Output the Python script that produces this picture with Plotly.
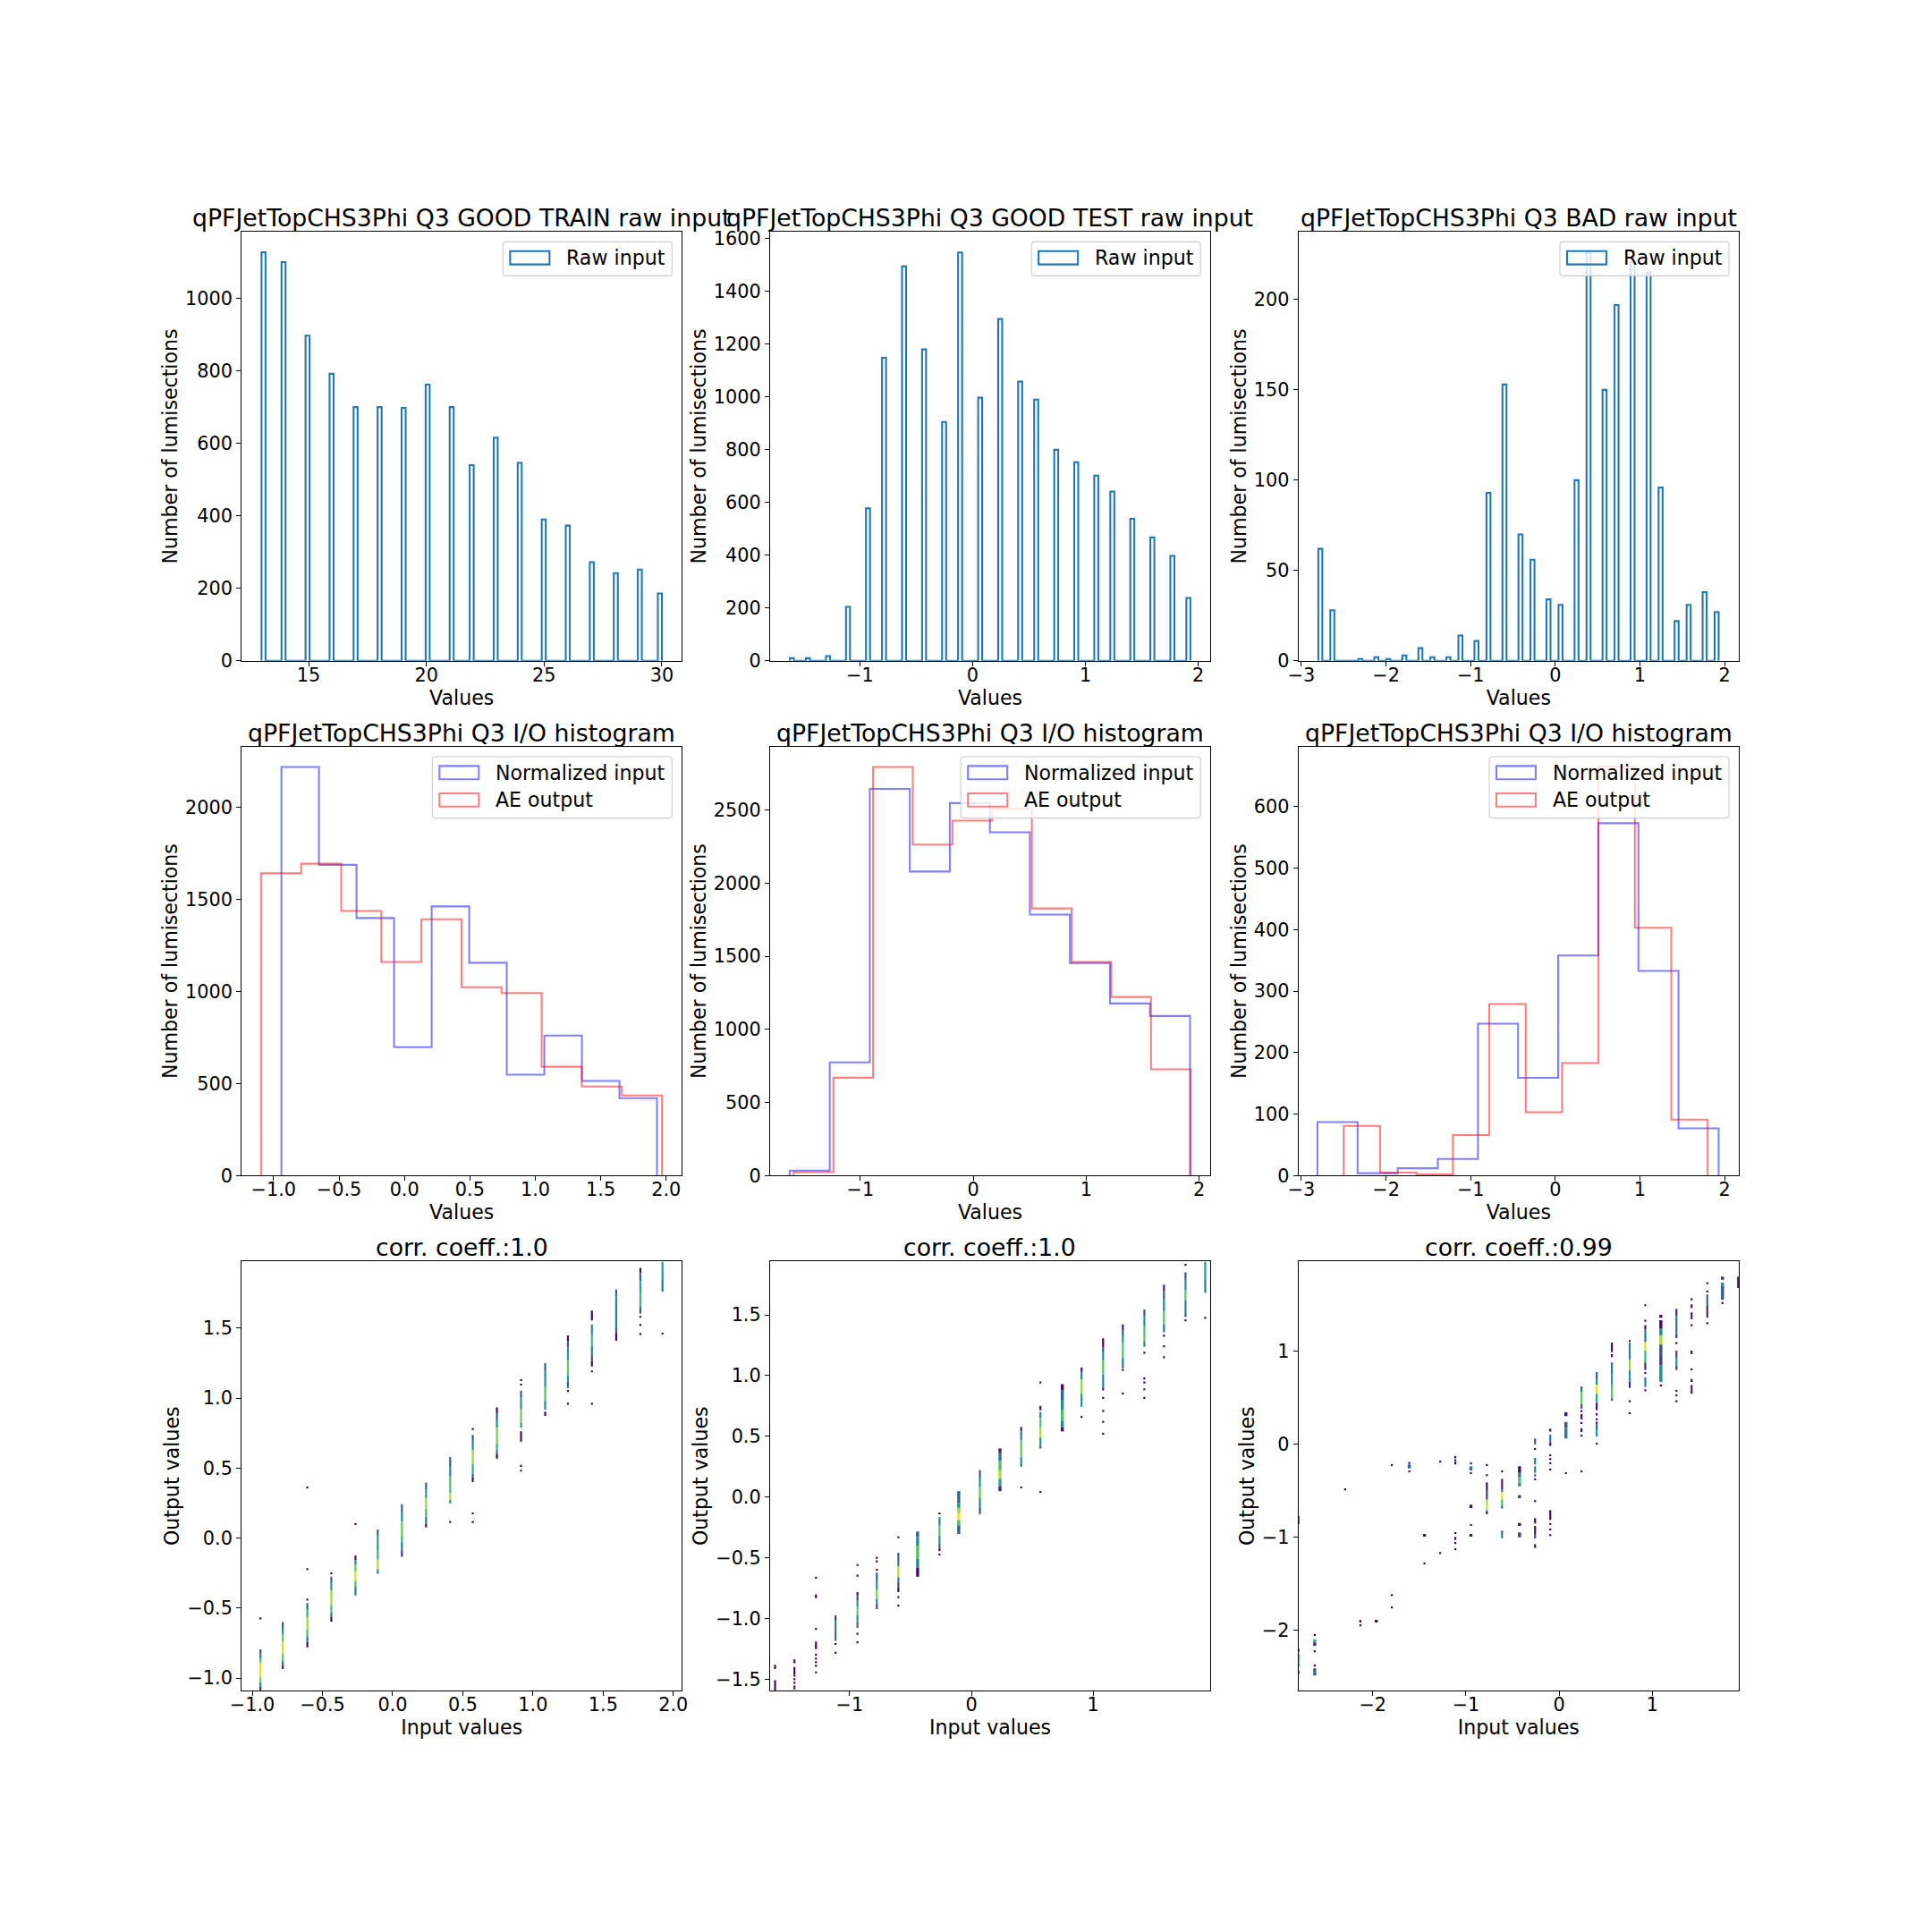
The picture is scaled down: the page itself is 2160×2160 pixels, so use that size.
import numpy as np
import plotly.graph_objects as go

# ---------- row 1: raw input histograms (distinct value -> number of lumisections)
train_values = [13,14,15,16,17,18,19,20,21,22,23,24,25,26,27,28,29,30]
train_counts = [1127,1100,897,792,700,700,698,762,700,540,616,546,390,373,272,242,252,186]
test_values = [-1.62,-1.45,-1.28,-1.11,-0.94,-0.77,-0.60,-0.43,-0.26,-0.10,0.07,0.24,0.41,0.58,0.75,0.91,1.08,1.25,1.42,1.59,1.76,1.93]
test_counts = [10,10,18,204,577,1147,1493,1179,904,1546,996,1294,1057,989,799,752,701,641,538,467,397,238]
bad_values = [-2.80,-2.62,-2.28,-2.12,-1.95,-1.78,-1.61,-1.44,-1.27,-1.10,-0.94,-0.77,-0.60,-0.43,-0.26,-0.10,0.07,0.24,0.41,0.58,0.74,0.91,1.08,1.25,1.42,1.59,1.76,1.93]
bad_counts = [62,28,1,2,1,3,7,2,2,14,11,93,153,70,56,34,31,100,226,150,197,221,215,96,22,31,38,27]

# ---------- row 2: input / output histograms (first edge, last edge, ten counts)
io1_in_range, io1_in = (-0.94, 1.93), [2221,1689,1400,698,1463,1157,549,761,515,421]
io1_out_range, io1_out = (-1.096, 1.968), [1643,1695,1438,1161,1393,1024,992,592,484,436]
io2_in_range, io2_in = (-1.625, 1.92), [35,775,2645,2080,2548,2349,1786,1454,1178,1092]
io2_out_range, io2_out = (-1.59, 1.926), [24,670,2795,2264,2428,2509,1828,1462,1222,727]
io3_in_range, io3_in = (-2.81, 1.93), [87,4,12,27,247,159,358,573,333,77]
io3_out_range, io3_out = (-2.50, 1.80), [81,5,2,66,279,103,183,665,403,91]

# ---------- row 3: scatter columns: (input value, output edges, density per stretch)
p1_runs = [
 (-0.942,[-.796,-.825,-.86,-.895,-.99,-1.03,-1.06,-1.09],[.2,.45,.72,.95,.8,.45,.15]),
 (-0.783,[-.60,-.642,-.691,-.74,-.825,-.874,-.906,-.935],[.3,.5,.75,.92,.75,.45,.05]),
 (-0.608,[-.464,-.508,-.569,-.654,-.703,-.74,-.781],[.35,.65,.85,.7,.4,.03]),
 (-0.437,[-.276,-.32,-.374,-.483,-.532,-.564,-.598],[.3,.55,.85,.7,.4,.03]),
 (-0.265,[-.125,-.159,-.19,-.239,-.305,-.349,-.41],[.03,.45,.75,.95,.7,.4]),
 (-0.106,[.061,.017,-.093,-.154,-.222,-.256],[.3,.55,.65,.88,.5]),
 (0.066,[.242,.188,.115,.017,-.032,-.093,-.134],[.3,.5,.75,.65,.4,.2]),
 (0.238,[.395,.347,.286,.212,.151,.103,.076],[.3,.55,.85,.7,.45,.05]),
 (0.41,[.579,.505,.444,.322,.273,.247],[.3,.45,.7,.9,.5]),
 (0.571,[.737,.688,.627,.53,.457,.437,.40],[.3,.5,.85,.65,.3,.03]),
 (0.743,[.933,.891,.847,.786,.676,.627,.603,.566],[.03,.3,.5,.8,.65,.35,.05]),
 (0.915,[1.052,.999,.92,.823,.786],[.3,.5,.78,.55]),
 (0.915,[.762,.688],[.03]),
 (1.087,[1.25,1.189,1.079,.981,.915],[.3,.5,.72,.5]),
 (1.087,[.903,.872],[.03]),
 (1.249,[1.448,1.404,1.36,1.274,1.165,1.116,1.072],[.03,.3,.55,.75,.55,.3]),
 (1.42,[1.624,1.555],[.03]),
 (1.42,[1.526,1.445,1.372,1.311,1.262,1.226],[.5,.7,.45,.25,.03]),
 (1.593,[1.775,1.726,1.506,1.47,1.409],[.3,.45,.25,.03]),
 (1.765,[1.929,1.892,1.836,1.738,1.653,1.604],[.03,.3,.6,.68,.3]),
 (1.923,[1.975,1.85,1.758],[.55,.42]),
]
p1_dots = [(-0.942,[-.574]),(-0.608,[.361,-.222,-.44]),(-0.437,[-.252]),(-0.265,[.10]),
 (0.41,[.115]),(0.571,[.779,.176,.115]),(0.915,[1.128,1.096,.515,.481]),(1.249,[1.05,.96]),
 (1.42,[1.19,.96]),(1.765,[1.58,1.521,1.458]),(1.923,[1.46])]

p2_runs = [
 (-1.613,[-1.382,-1.416],[.03]),(-1.613,[-1.509,-1.593],[.03]),
 (-1.454,[-1.40,-1.46],[.03]),
 (-1.277,[-.802,-.833],[.03]),(-1.277,[-1.19,-1.252],[.03]),
 (-1.116,[-.974,-1.02,-1.10,-1.185],[.2,.45,.35]),
 (-0.936,[-.782,-.81,-.85,-.90,-.97,-1.03,-1.078],[.03,.25,.5,.75,.5,.3]),
 (-0.777,[-.622,-.68,-.76,-.84,-.88,-.923],[.3,.5,.78,.5,.25]),
 (-0.60,[-.459,-.53,-.57,-.66,-.70,-.745,-.782],[.3,.45,.88,.45,.2,.03]),
 (-0.442,[-.284,-.33,-.40,-.51,-.58,-.656],[.3,.5,.72,.5,.05]),
 (-0.262,[-.166,-.23,-.32,-.38,-.42,-.445],[.4,.72,.5,.3,.03]),
 (-0.104,[.048,-.05,-.09,-.14,-.19,-.235,-.304],[.3,.5,.85,.98,.7,.3]),
 (0.07,[.222,.16,.08,-.01,-.09,-.141],[.3,.5,.75,.45,.25]),
 (0.235,[.40,.36,.30,.22,.15,.09,.048],[.1,.4,.72,.88,.6,.1]),
 (0.409,[.577,.54,.47,.33,.27,.25],[.1,.4,.75,.5,.3]),
 (0.567,[.751,.715],[.03]),
 (0.567,[.70,.65,.57,.49,.42,.40],[.45,.72,.88,.5,.25]),
 (0.747,[.929,.88,.80,.72,.63,.575,.54],[.03,.3,.5,.72,.5,.05]),
 (0.905,[1.067,1.03,.97,.85,.743],[.05,.45,.82,.5]),
 (1.082,[1.306,1.23,1.19,1.12,1.01,.90,.878],[.03,.25,.5,.72,.45,.05]),
 (1.244,[1.421,1.37,1.33,1.26,1.15,1.08,1.067],[.08,.3,.55,.72,.45,.2]),
 (1.421,[1.545,1.49,1.40,1.28,1.236],[.25,.5,.72,.45]),
 (1.582,[1.748,1.69,1.62,1.53,1.42,1.357],[.1,.3,.5,.72,.4]),
 (1.759,[1.849,1.79,1.70,1.62,1.50,1.483],[.25,.5,.72,.45,.2]),
 (1.921,[1.939,1.80,1.68],[.55,.42]),
]
p2_dots = [(-1.454,[-1.345,-1.36,-1.47,-1.50,-1.53,-1.56,-1.575]),
 (-1.277,[-.664,-1.086,-1.30,-1.33,-1.36,-1.39,-1.444]),(-1.116,[-1.21,-1.283]),
 (-0.936,[-.56,-.647,-1.126,-1.196]),(-0.777,[-.50,-.53,-.60]),(-0.60,[-.332,-.825,-.895]),
 (-0.262,[-.135,-.473]),(0.409,[.079]),(0.567,[.943,.042]),(0.905,[.659]),
 (1.082,[.816,.709,.619,.521]),(1.244,[1.047,.853]),(1.421,[1.188,.977,.943,.887,.816]),
 (1.582,[1.328,1.241,1.151]),(1.759,[1.911,1.455]),(1.921,[1.475])]

p3_runs = [
 (-2.797,[-.771,-.858],[.03]),(-2.797,[-2.198,-2.23],[.03]),(-2.797,[-2.256,-2.30,-2.35,-2.39],[.5,.7,.45]),(-2.797,[-2.43,-2.47],[.03]),
 (-2.622,[-2.096,-2.13,-2.166],[.6,.1]),(-2.622,[-2.41,-2.45,-2.487],[.25,.3]),
 (-2.133,[-1.887,-1.916],[.03]),(-1.962,[-1.887,-1.916],[.03]),
 (-1.608,[-.216,-.258],[.28]),
 (-1.445,[-.964,-.992],[.03]),
 (-1.114,[-.152,-.17,-.194],[.5,.25]),(-1.114,[-.996,-1.028],[.03]),
 (-0.947,[-.236,-.28],[.4]),(-0.947,[-.649,-.685],[.03]),(-0.947,[-.964,-.992],[.03]),
 (-0.776,[-.408,-.50,-.594,-.65,-.707,-.735],[.05,.2,.85,.93,.4]),
 (-0.613,[-.37,-.482,-.514,-.594,-.658,-.69],[.1,.45,.95,.7,.3]),(-0.613,[-.93,-.95],[.03]),(-0.613,[-.95,-1.01],[.45]),
 (-0.426,[-.235,-.306,-.354,-.418,-.45],[.03,.45,.72,.45]),(-0.426,[-.546,-.578],[.15]),(-0.426,[-.845,-.877],[.03]),(-0.426,[-.947,-1.0],[.2]),
 (-0.259,[.063,0.0],[.28]),(-0.259,[-.145,-.216],[.42]),(-0.259,[-.235,-.306],[.42]),(-0.259,[-.322,-.344],[.2]),
 (-0.259,[-.793,-.851],[.03]),(-0.259,[-.877,-.963],[.03]),(-0.259,[-.963,-1.011],[.22]),(-0.259,[-1.073,-1.114],[.03]),
 (-0.096,[.169,.137],[.03]),(-0.096,[.105,.021],[.4]),(-0.096,[.021,-.017],[.03]),(-0.096,[-.707,-.813],[.03]),
 (0.072,[.345,.304],[.03]),(0.072,[.24,.175,.063],[.25,.45]),
 (0.239,[.624,.56,.432,.384],[.3,.75,.25]),(0.239,[.326,.27],[.03]),(0.239,[.175,.133],[.03]),
 (0.402,[.778,.70,.64,.544,.448,.368],[.3,.5,.97,.6,.05]),(0.402,[.336,.31],[.03]),(0.402,[.223,.15,.085],[.35,.5]),
 (0.565,[1.096,.993],[.03]),(0.565,[.97,.94],[.03]),(0.565,[.881,.753,.64,.496,.47],[.42,.55,.72,.25]),
 (0.756,[1.096,.913,.8,.672,.608],[.45,.85,.55,.15]),
 (0.923,[1.282,1.234,1.105,1.009,.881,.80],[.05,.35,.95,.68,.12]),(0.923,[.72,.618],[.42]),
 (1.09,[1.394,1.362],[.03]),(1.09,[1.336,1.25,1.17,1.073,.961,.85,.672],[.03,.5,.88,.25,.2,.5]),
 (1.257,[1.458,1.378,1.185,1.144],[.12,.4,.15]),(1.257,[1.009,.929,.849,.80],[.22,.5,.18]),
 (1.42,[1.506,1.465],[.03]),(1.42,[1.42,1.346],[.08]),(1.42,[1.009,.971],[.03]),(1.42,[.704,.672],[.03]),(1.42,[.64,.544],[.08]),
 (1.588,[1.612,1.49,1.362],[.35,.12]),
 (1.751,[1.804,1.772],[.12]),(1.751,[1.74,1.708],[.5]),(1.751,[1.708,1.554],[.28]),
 (1.918,[1.804,1.683],[.12]),
]
p3_dots = [(-2.622,[-2.05,-2.224,-2.378]),(-2.296,[-.483]),(-2.133,[-1.945]),(-1.795,[-.223,-1.621,-1.753]),
 (-1.608,[-.2,-.29]),(-1.445,[-1.281]),(-1.277,[-.184,-1.169]),(-1.114,[-.136,-.204,-.954,-1.06,-1.127]),
 (-0.947,[-.204,-.309,-.867]),(-0.776,[-.222,-.331,-.739]),(-0.613,[-.29]),(-0.259,[-.049,-.376,-.61]),
 (-0.096,[-.117,-.158,-.203,-.27,-.857,-.915,-.976]),(0.072,[-.309]),(0.239,[.358,.23,.095,-.29]),
 (0.402,[.27,.233,.008]),(0.756,[1.112,.464,.336]),(0.923,[1.497,1.33,.768,.582]),(1.09,[.634]),
 (1.257,[1.089,.576,.528,.464]),(1.42,[1.561,1.282,.807]),(1.588,[1.734,1.644,1.304]),(1.751,[1.519])]

# columns whose points spread a little wider on the input axis
p1_wide = []
p2_wide = [-0.442,-0.104,0.235,0.747]
p3_wide = [-2.622,-1.962,-1.608,-1.445,-0.947,-0.426,0.072,1.09,1.751]

# ---------- text
titles = ["qPFJetTopCHS3Phi Q3 GOOD TRAIN raw input","qPFJetTopCHS3Phi Q3 GOOD TEST raw input","qPFJetTopCHS3Phi Q3 BAD raw input",
          "qPFJetTopCHS3Phi Q3 I/O histogram","qPFJetTopCHS3Phi Q3 I/O histogram","qPFJetTopCHS3Phi Q3 I/O histogram",
          "corr. coeff.:1.0","corr. coeff.:1.0","corr. coeff.:0.99"]
x_ticks = [[15,20,25,30],[-1,0,1,2],[-3,-2,-1,0,1,2],
           [-1.0,-0.5,0.0,0.5,1.0,1.5,2.0],[-1,0,1,2],[-3,-2,-1,0,1,2],
           [-1.0,-0.5,0.0,0.5,1.0,1.5,2.0],[-1,0,1],[-2,-1,0,1]]
y_ticks = [[0,200,400,600,800,1000],[0,200,400,600,800,1000,1200,1400,1600],[0,50,100,150,200],
           [0,500,1000,1500,2000],[0,500,1000,1500,2000,2500],[0,100,200,300,400,500,600],
           [-1.0,-0.5,0.0,0.5,1.0,1.5],[-1.5,-1.0,-0.5,0.0,0.5,1.0,1.5],[-2,-1,0,1]]
x_ranges = [[12.15,30.85],[-1.797,2.107],[-3.035,2.168],[-1.245,2.12],[-1.80,2.10],[-3.035,2.168],
            [-1.077,2.061],[-1.655,1.963],[-2.797,1.926]]
y_ranges = [[0,1183.6],[0,1624],[0,237.5],[0,2331],[0,2934],[0,697.5],
            [-1.089,1.975],[-1.593,1.939],[-2.647,1.967]]

# ---------- layout
S = 2160.0
LEFTS = [270.0, 860.82, 1451.65]
TOPS = [259.2, 834.8, 1410.4]
W, H = 492.35, 479.6
TICK_PX, LABEL_PX, TITLE_PX = 20.8, 22.1, 26.7
FONT = "DejaVu Sans"
RAW_COLOR = "#1f77b4"
IN_COLOR, OUT_COLOR = "rgba(0,0,255,0.5)", "rgba(255,0,0,0.5)"
PURPLE = "#440154"
LINE_PX = 2.08

fig = go.Figure()

def fmt(v, decimals):
    s = f"{abs(v):.{decimals}f}"
    return ("\u2212" + s) if v < 0 else s

def px(x): return x / S
def py(y): return 1 - y / S

def add_steps(edges, counts, color, panel, name):
    xs = np.repeat(edges, 2)
    ys = np.concatenate([[0], np.repeat(counts, 2), [0]])
    fig.add_trace(go.Scatter(x=xs, y=ys, mode="lines", name=name, showlegend=False,
                             line=dict(color=color, width=LINE_PX, simplify=False), hoverinfo="skip",
                             xaxis=f"x{panel}", yaxis=f"y{panel}"))

for panel, (vals, cnts) in enumerate([(train_values, train_counts), (test_values, test_counts), (bad_values, bad_counts)], 1):
    c, e = np.histogram(vals, bins=100, weights=cnts)
    add_steps(e, c, RAW_COLOR, panel, "Raw input")

for panel, (ri, ci, ro, co) in enumerate([(io1_in_range, io1_in, io1_out_range, io1_out),
                                          (io2_in_range, io2_in, io2_out_range, io2_out),
                                          (io3_in_range, io3_in, io3_out_range, io3_out)], 4):
    add_steps(np.linspace(ri[0], ri[1], len(ci) + 1), ci, IN_COLOR, panel, "Normalized input")
    add_steps(np.linspace(ro[0], ro[1], len(co) + 1), co, OUT_COLOR, panel, "AE output")

for panel, runs, dots, wide in [(7, p1_runs, p1_dots, p1_wide), (8, p2_runs, p2_dots, p2_wide), (9, p3_runs, p3_dots, p3_wide)]:
    bx, bbase, bh, bc, bw = [], [], [], [], []
    r = x_ranges[panel - 1]
    unit = (r[1] - r[0]) / W
    for x, edges, dens in runs:
        for top, low, d in zip(edges[:-1], edges[1:], dens):
            bx.append(x); bbase.append(low); bh.append(top - low); bc.append(d)
            bw.append((3.4 if x in wide else 2.2) * unit)
    fig.add_trace(go.Bar(x=bx, y=bh, base=bbase, width=bw, showlegend=False, hoverinfo="skip",
                         marker=dict(color=bc, colorscale="Viridis", cmin=0, cmax=1, line=dict(width=0)),
                         xaxis=f"x{panel}", yaxis=f"y{panel}"))
    dx = [x for x, ys in dots for _ in ys]
    dy = [y for _, ys in dots for y in ys]
    fig.add_trace(go.Scatter(x=dx, y=dy, mode="markers", showlegend=False, hoverinfo="skip",
                             marker=dict(symbol="square", size=2.2, color=PURPLE, line=dict(width=0)),
                             xaxis=f"x{panel}", yaxis=f"y{panel}"))

layout = dict(width=2160, height=2160, margin=dict(l=0, r=0, t=0, b=0), paper_bgcolor="white", plot_bgcolor="white",
              font=dict(family=FONT, size=TICK_PX, color="black"), barmode="overlay", showlegend=False)
annotations, shapes = [], []

def rounded(x0, y0, x1, y1, r=3.5):
    X = lambda v: f"{px(v):.6f}"
    Y = lambda v: f"{py(v):.6f}"
    return (f"M{X(x0+r)},{Y(y0)} L{X(x1-r)},{Y(y0)} Q{X(x1)},{Y(y0)} {X(x1)},{Y(y0+r)} "
            f"L{X(x1)},{Y(y1-r)} Q{X(x1)},{Y(y1)} {X(x1-r)},{Y(y1)} L{X(x0+r)},{Y(y1)} "
            f"Q{X(x0)},{Y(y1)} {X(x0)},{Y(y1-r)} L{X(x0)},{Y(y0+r)} Q{X(x0)},{Y(y0)} {X(x0+r)},{Y(y0)} Z")

def add_legend(left, top, entries, width):
    x1 = left + W - 11.0
    x0 = x1 - width
    y0 = top + 11.2
    y1 = y0 + 38 + (len(entries) - 1) * 30.6
    shapes.append(dict(type="path", path=rounded(x0, y0, x1, y1), xref="paper", yref="paper", layer="above",
                       fillcolor="rgba(255,255,255,0.8)", line=dict(color="#cccccc", width=1.1)))
    for i, (label, color) in enumerate(entries):
        yc = y0 + 17.8 + i * 30.6
        shapes.append(dict(type="rect", xref="paper", yref="paper", layer="above",
                           x0=px(x0 + 8), x1=px(x0 + 52), y0=py(yc - 7.4), y1=py(yc + 7.4),
                           fillcolor="rgba(0,0,0,0)", line=dict(color=color, width=LINE_PX)))
        annotations.append(dict(text=label, xref="paper", yref="paper", x=px(x0 + 68.5), y=py(yc),
                                xanchor="left", yanchor="middle", showarrow=False,
                                font=dict(family=FONT, size=LABEL_PX, color="black")))

for i in range(9):
    row, col = i // 3, i % 3
    left, top = LEFTS[col], TOPS[row]
    n = i + 1
    xname, yname = f"xaxis{n}", f"yaxis{n}"
    xdec = 1 if i in (3, 6) else 0
    ydec = 1 if i in (6, 7) else 0
    common = dict(showgrid=False, zeroline=False, showline=True, mirror=True, linecolor="black", linewidth=1.1,
                  ticks="outside", ticklen=4.9, tickwidth=1.1, tickcolor="black", automargin=False,
                  tickfont=dict(family=FONT, size=TICK_PX, color="black"), tickmode="array")
    layout[xname] = dict(common, domain=[px(left), px(left + W)], range=x_ranges[i], anchor=f"y{n}",
                         ticklabelstandoff=-8,
                         tickvals=x_ticks[i], ticktext=[fmt(v, xdec) for v in x_ticks[i]],
                         title=dict(text="Input values" if row == 2 else "Values", standoff=4,
                                    font=dict(family=FONT, size=LABEL_PX, color="black")))
    layout[yname] = dict(common, domain=[py(top + H), py(top)], range=y_ranges[i], anchor=f"x{n}",
                         tickvals=y_ticks[i], ticktext=[fmt(v, ydec) for v in y_ticks[i]],
                         title=dict(text="Output values" if row == 2 else "Number of lumisections", standoff=2,
                                    font=dict(family=FONT, size=LABEL_PX, color="black")))
    annotations.append(dict(text=titles[i], xref="paper", yref="paper", x=px(left + W / 2), y=py(top + 2),
                            xanchor="center", yanchor="bottom", showarrow=False,
                            font=dict(family=FONT, size=TITLE_PX, color="black")))
    if row == 0:
        add_legend(left, top, [("Raw input", RAW_COLOR)], 189)
    elif row == 1:
        add_legend(left, top, [("Normalized input", IN_COLOR), ("AE output", OUT_COLOR)], 268)

layout["annotations"] = annotations
layout["shapes"] = shapes
fig.update_layout(**layout)
fig.write_html("out.html", config={"displayModeBar": False}, post_script="document.body.style.margin='0';")
